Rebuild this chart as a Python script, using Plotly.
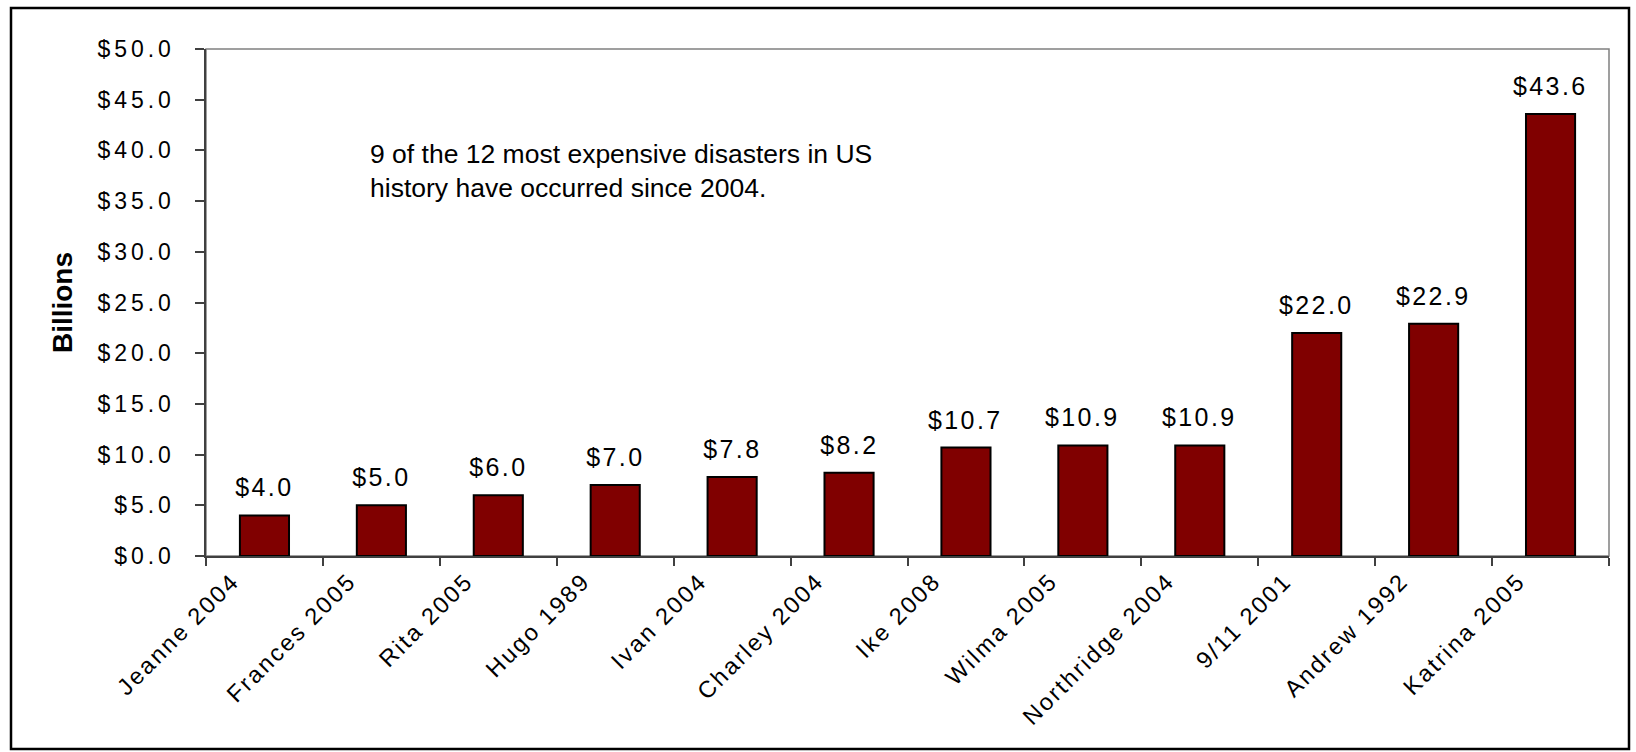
import plotly.graph_objects as go

categories = ["Jeanne 2004", "Frances 2005", "Rita 2005", "Hugo 1989", "Ivan 2004",
              "Charley 2004", "Ike 2008", "Wilma 2005", "Northridge 2004", "9/11 2001",
              "Andrew 1992", "Katrina 2005"]
values = [4.0, 5.0, 6.0, 7.0, 7.8, 8.2, 10.7, 10.9, 10.9, 22.0, 22.9, 43.6]
value_labels = ["$4.0", "$5.0", "$6.0", "$7.0", "$7.8", "$8.2", "$10.7", "$10.9",
                "$10.9", "$22.0", "$22.9", "$43.6"]
y_title = "Billions"
note = "9 of the 12 most expensive disasters in US<br>history have occurred since 2004."

W, H = 1636, 752
L, R, T, B = 206, 1609, 49, 556
pw, ph = R - L, B - T

def px_x(x):
    return (x - L) / pw

def px_y(y):
    return (B - y) / ph

FONT = "Liberation Sans, Arial, Helvetica, sans-serif"

fig = go.Figure()
fig.add_trace(go.Bar(
    x=categories, y=values,
    marker=dict(color="#800000", line=dict(color="#000000", width=2)),
    width=0.42,
    hoverinfo="x+y",
))

annotations = []
for c, v, t in zip(categories, values, value_labels):
    annotations.append(dict(
        x=c, y=v, xref="x", yref="y", text=t, showarrow=False,
        yanchor="bottom", xanchor="center", yshift=12,
        font=dict(family=FONT, size=25, color="#000000"),
    ))
note_index = len(annotations)
annotations.append(dict(
    x=px_x(368), y=px_y(137), xref="paper", yref="paper", text=note,
    showarrow=False, xanchor="left", yanchor="top", align="left",
    font=dict(family=FONT, size=26.5, color="#000000"),
))

shapes = [
    dict(type="rect", xref="paper", yref="paper", x0=0, x1=1, y0=0, y1=1,
         line=dict(color="#808080", width=1.5), layer="below"),
    dict(type="rect", xref="paper", yref="paper",
         x0=px_x(11), x1=px_x(1629), y0=px_y(749), y1=px_y(8),
         line=dict(color="#000000", width=2.5), layer="above"),
]

fig.update_layout(
    width=W, height=H,
    margin=dict(l=L, r=W - R, t=T, b=H - B, pad=0),
    paper_bgcolor="white", plot_bgcolor="white",
    showlegend=False,
    bargap=0.58,
    annotations=annotations,
    shapes=shapes,
    font=dict(family=FONT, color="#000000"),
)
fig.update_xaxes(
    type="category", showgrid=False, showline=True, linecolor="#404040", linewidth=2,
    ticks="outside", tickson="boundaries", ticklen=8, tickcolor="#404040", tickwidth=1.5,
    tickangle=-45, ticklabelshift=-32, ticklabelstandoff=0,
    tickfont=dict(family=FONT, size=23.5, color="#000000"),
    zeroline=False,
)
fig.update_yaxes(
    range=[0, 50], dtick=5, tick0=0, tickprefix="$", tickformat=".1f",
    showgrid=False, showline=True, linecolor="#404040", linewidth=1.5,
    ticks="outside", ticklen=9, tickcolor="#404040", tickwidth=1.5,
    ticklabelstandoff=16,
    tickfont=dict(family=FONT, size=23, color="#000000"),
    title=dict(text="<b>" + y_title + "</b>", font=dict(family=FONT, size=28, color="#000000"),
               standoff=36),
    zeroline=False,
)

css = (
    ".ytick text{letter-spacing:3.9px;}"
    ".xtick text{letter-spacing:2.3px;}"
    ".annotation:not([data-index='%d']) text{letter-spacing:2.4px;}" % note_index
)
post = ("var s=document.createElement('style');s.textContent=\"" + css + "\";"
        "document.head.appendChild(s);")

fig.write_html("out.html", post_script=post)
